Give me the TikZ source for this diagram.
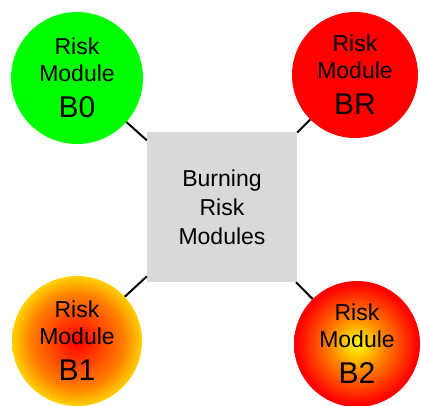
\documentclass[tikz,border=0pt]{standalone}
\usepackage{fontspec}
\setmainfont{Liberation Sans}
\definecolor{boxgray}{RGB}{217,217,217}
\definecolor{modgreen}{RGB}{0,255,0}
\definecolor{modred}{RGB}{255,0,0}
\pgfdeclareradialshading{hotcore}{\pgfpoint{0bp}{0bp}}{rgb(0bp)=(1,0,0); rgb(18bp)=(1,0.5,0); rgb(29bp)=(1,1,0); rgb(100bp)=(1,1,0)}
\pgfdeclareradialshading{hotrim}{\pgfpoint{0bp}{0bp}}{rgb(0bp)=(1,1,0); rgb(10bp)=(1,0.55,0); rgb(24bp)=(1,0,0); rgb(100bp)=(1,0,0)}
\begin{document}
\begin{tikzpicture}[x=1pt, y=-1pt,
  module/.style={circle, inner sep=0pt, align=center, font=\fontsize{23}{27}\selectfont},
  burnbox/.style={rectangle, fill=boxgray, minimum size=150pt, inner sep=0pt, align=center, font=\fontsize{23}{29}\selectfont},
  link/.style={line width=2pt}]
\useasboundingbox (0,0) rectangle (421,405);
\node[burnbox] (burn) at (222,207){Burning\\Risk\\Modules};
\node[module, minimum size=132pt, fill=modgreen] (mod0) at (77,78){Risk\\Module\\[9pt]\fontsize{30}{27}\selectfont B0};
\node[module, minimum size=126pt, fill=modred] (modR) at (355,75){Risk\\Module\\[9pt]\fontsize{30}{27}\selectfont BR};
\node[module, minimum size=130pt, shading=hotcore] (mod1) at (77,341){Risk\\Module\\[9pt]\fontsize{30}{27}\selectfont B1};
\node[module, minimum size=126pt, shading=hotrim] (mod2) at (357,344){Risk\\Module\\[9pt]\fontsize{30}{27}\selectfont B2};
\draw[link](mod0) -- (burn);
\draw[link](modR) -- (burn);
\draw[link](mod1) -- (burn);
\draw[link](mod2) -- (burn);
\end{tikzpicture}
\end{document}
